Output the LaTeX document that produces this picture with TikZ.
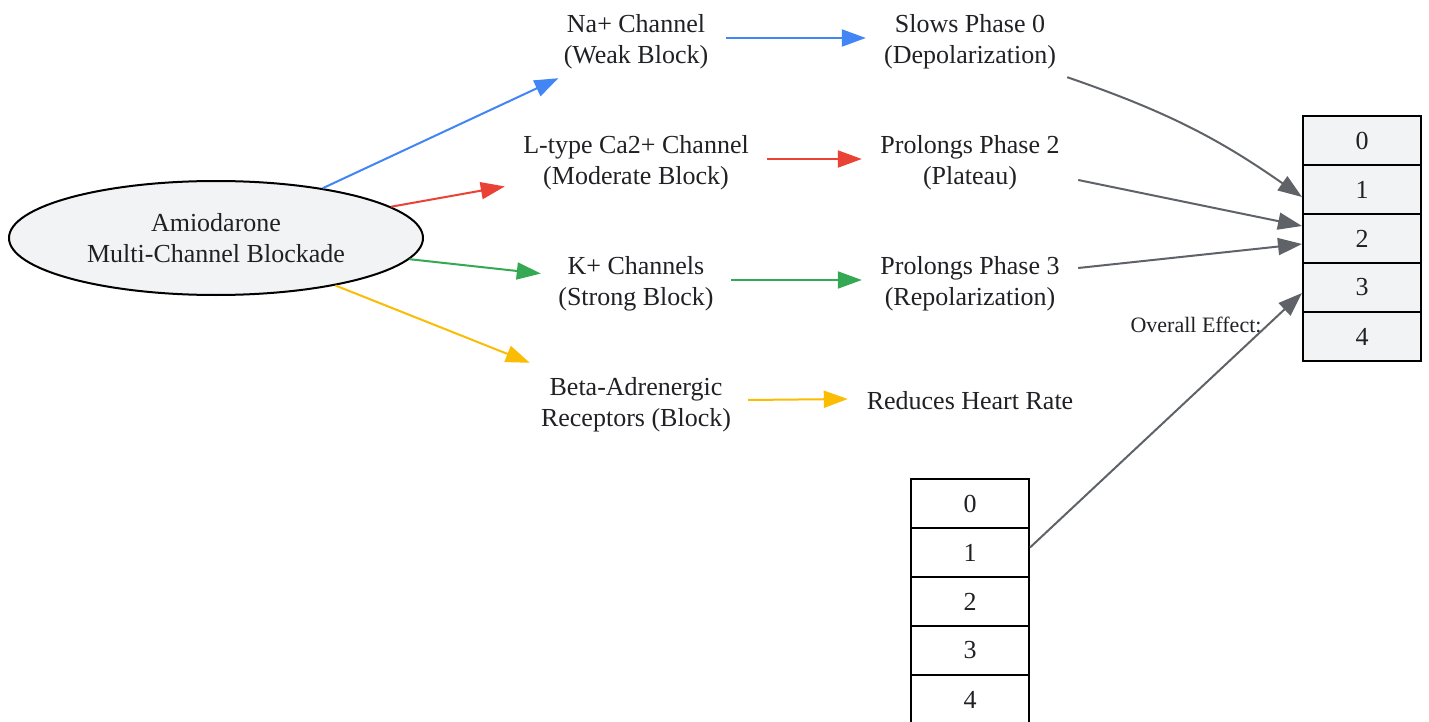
\documentclass[tikz,border=0pt]{standalone}
\usepackage{fontspec}
\setmainfont{Liberation Serif}
\usetikzlibrary{arrows.meta,shapes.geometric,calc}
\definecolor{gblue}{HTML}{4285F4}
\definecolor{gred}{HTML}{EA4335}
\definecolor{ggreen}{HTML}{34A853}
\definecolor{gyellow}{HTML}{FBBC04}
\definecolor{ggray}{HTML}{5F6368}
\definecolor{ink}{HTML}{202124}
\definecolor{lightfill}{HTML}{F1F3F4}
\begin{document}
\begin{tikzpicture}[x=1pt,y=-1pt,
  txt/.style={font=\fontsize{26}{31}\selectfont, text=ink, align=center, inner sep=0pt},
  cell/.style={draw=black, line width=2pt, minimum width=118pt, minimum height=49pt, inner sep=0pt, font=\fontsize{26}{31}\selectfont, text=ink},
  conn/.style={line width=2pt, -{Triangle[length=24pt,width=17pt]}}]
\clip (0,0) rectangle (1429,722);
\fill[white] (0,0) rectangle (1429,722);

\node[ellipse, draw=black, line width=2pt, fill=lightfill, minimum width=414pt, minimum height=114pt, inner sep=0pt, txt] (amio) at (216,238) {Amiodarone\\Multi-Channel Blockade};

\node[txt, minimum width=176pt, minimum height=72pt] (na) at (636,42) {Na+ Channel\\(Weak Block)};
\node[txt, minimum width=262pt, minimum height=78pt] (ca) at (636,163) {L-type Ca2+ Channel\\(Moderate Block)};
\node[txt, minimum width=190pt, minimum height=78pt] (k) at (636,284) {K+ Channels\\(Strong Block)};
\node[txt, minimum width=212pt, minimum height=90pt] (beta) at (636,405) {Beta-Adrenergic\\Receptors (Block)};

\node[txt, minimum width=208pt, minimum height=78pt] (p0) at (970,42) {Slows Phase 0\\(Depolarization)};
\node[txt, minimum width=216pt, minimum height=78pt] (p2) at (970,163) {Prolongs Phase 2\\(Plateau)};
\node[txt, minimum width=216pt, minimum height=78pt] (p3) at (970,284) {Prolongs Phase 3\\(Repolarization)};
\node[txt, minimum width=244pt, minimum height=47pt] (hr) at (970,401) {Reduces Heart Rate};

\foreach \i/\y in {0/140.5,1/189.5,2/238.5,3/287.5,4/336.5}
  \node[cell, fill=lightfill] (r\i) at (1362,\y) {\i};
\foreach \i/\y in {0/503.5,1/552.5,2/601.5,3/650.5,4/699.5}
  \node[cell, fill=white] (b\i) at (970,\y) {\i};

\node[font=\fontsize{22}{26}\selectfont, text=ink, inner sep=0pt] (lbl) at (1196,325) {Overall Effect:};

\draw[conn, gblue] (amio) -- (na);
\draw[conn, gred] (amio) -- (ca);
\draw[conn, ggreen] (amio) -- (k);
\draw[conn, gyellow] (amio) -- (beta);

\draw[conn, gblue] ($(na.east)+(2,-4)$) -- ($(p0.west)+(0,-4)$);
\draw[conn, gred] ($(ca.east)+(0,-4)$) -- ($(p2.west)+(0,-4)$);
\draw[conn, ggreen] ($(k.east)+(0,-4)$) -- ($(p3.west)+(0,-4)$);
\draw[conn, gyellow] ($(beta.east)+(6,-5)$) -- ($(hr.west)+(0,-2)$);

\draw[conn, ggray] ($(p0.south east)+(-7,-4)$) to[bend left=8] ($(r1.west)+(0,7.5)$);
\draw[conn, ggray] ($(p2.east)+(0,17)$) -- ($(r2.west)+(0,-12.5)$);
\draw[conn, ggray] ($(p3.east)+(0,-16)$) -- ($(r2.west)+(0,5.5)$);
\draw[conn, ggray] ($(b1.east)+(0,-5)$) -- ($(r3.west)+(0,5.5)$);
\end{tikzpicture}
\end{document}
